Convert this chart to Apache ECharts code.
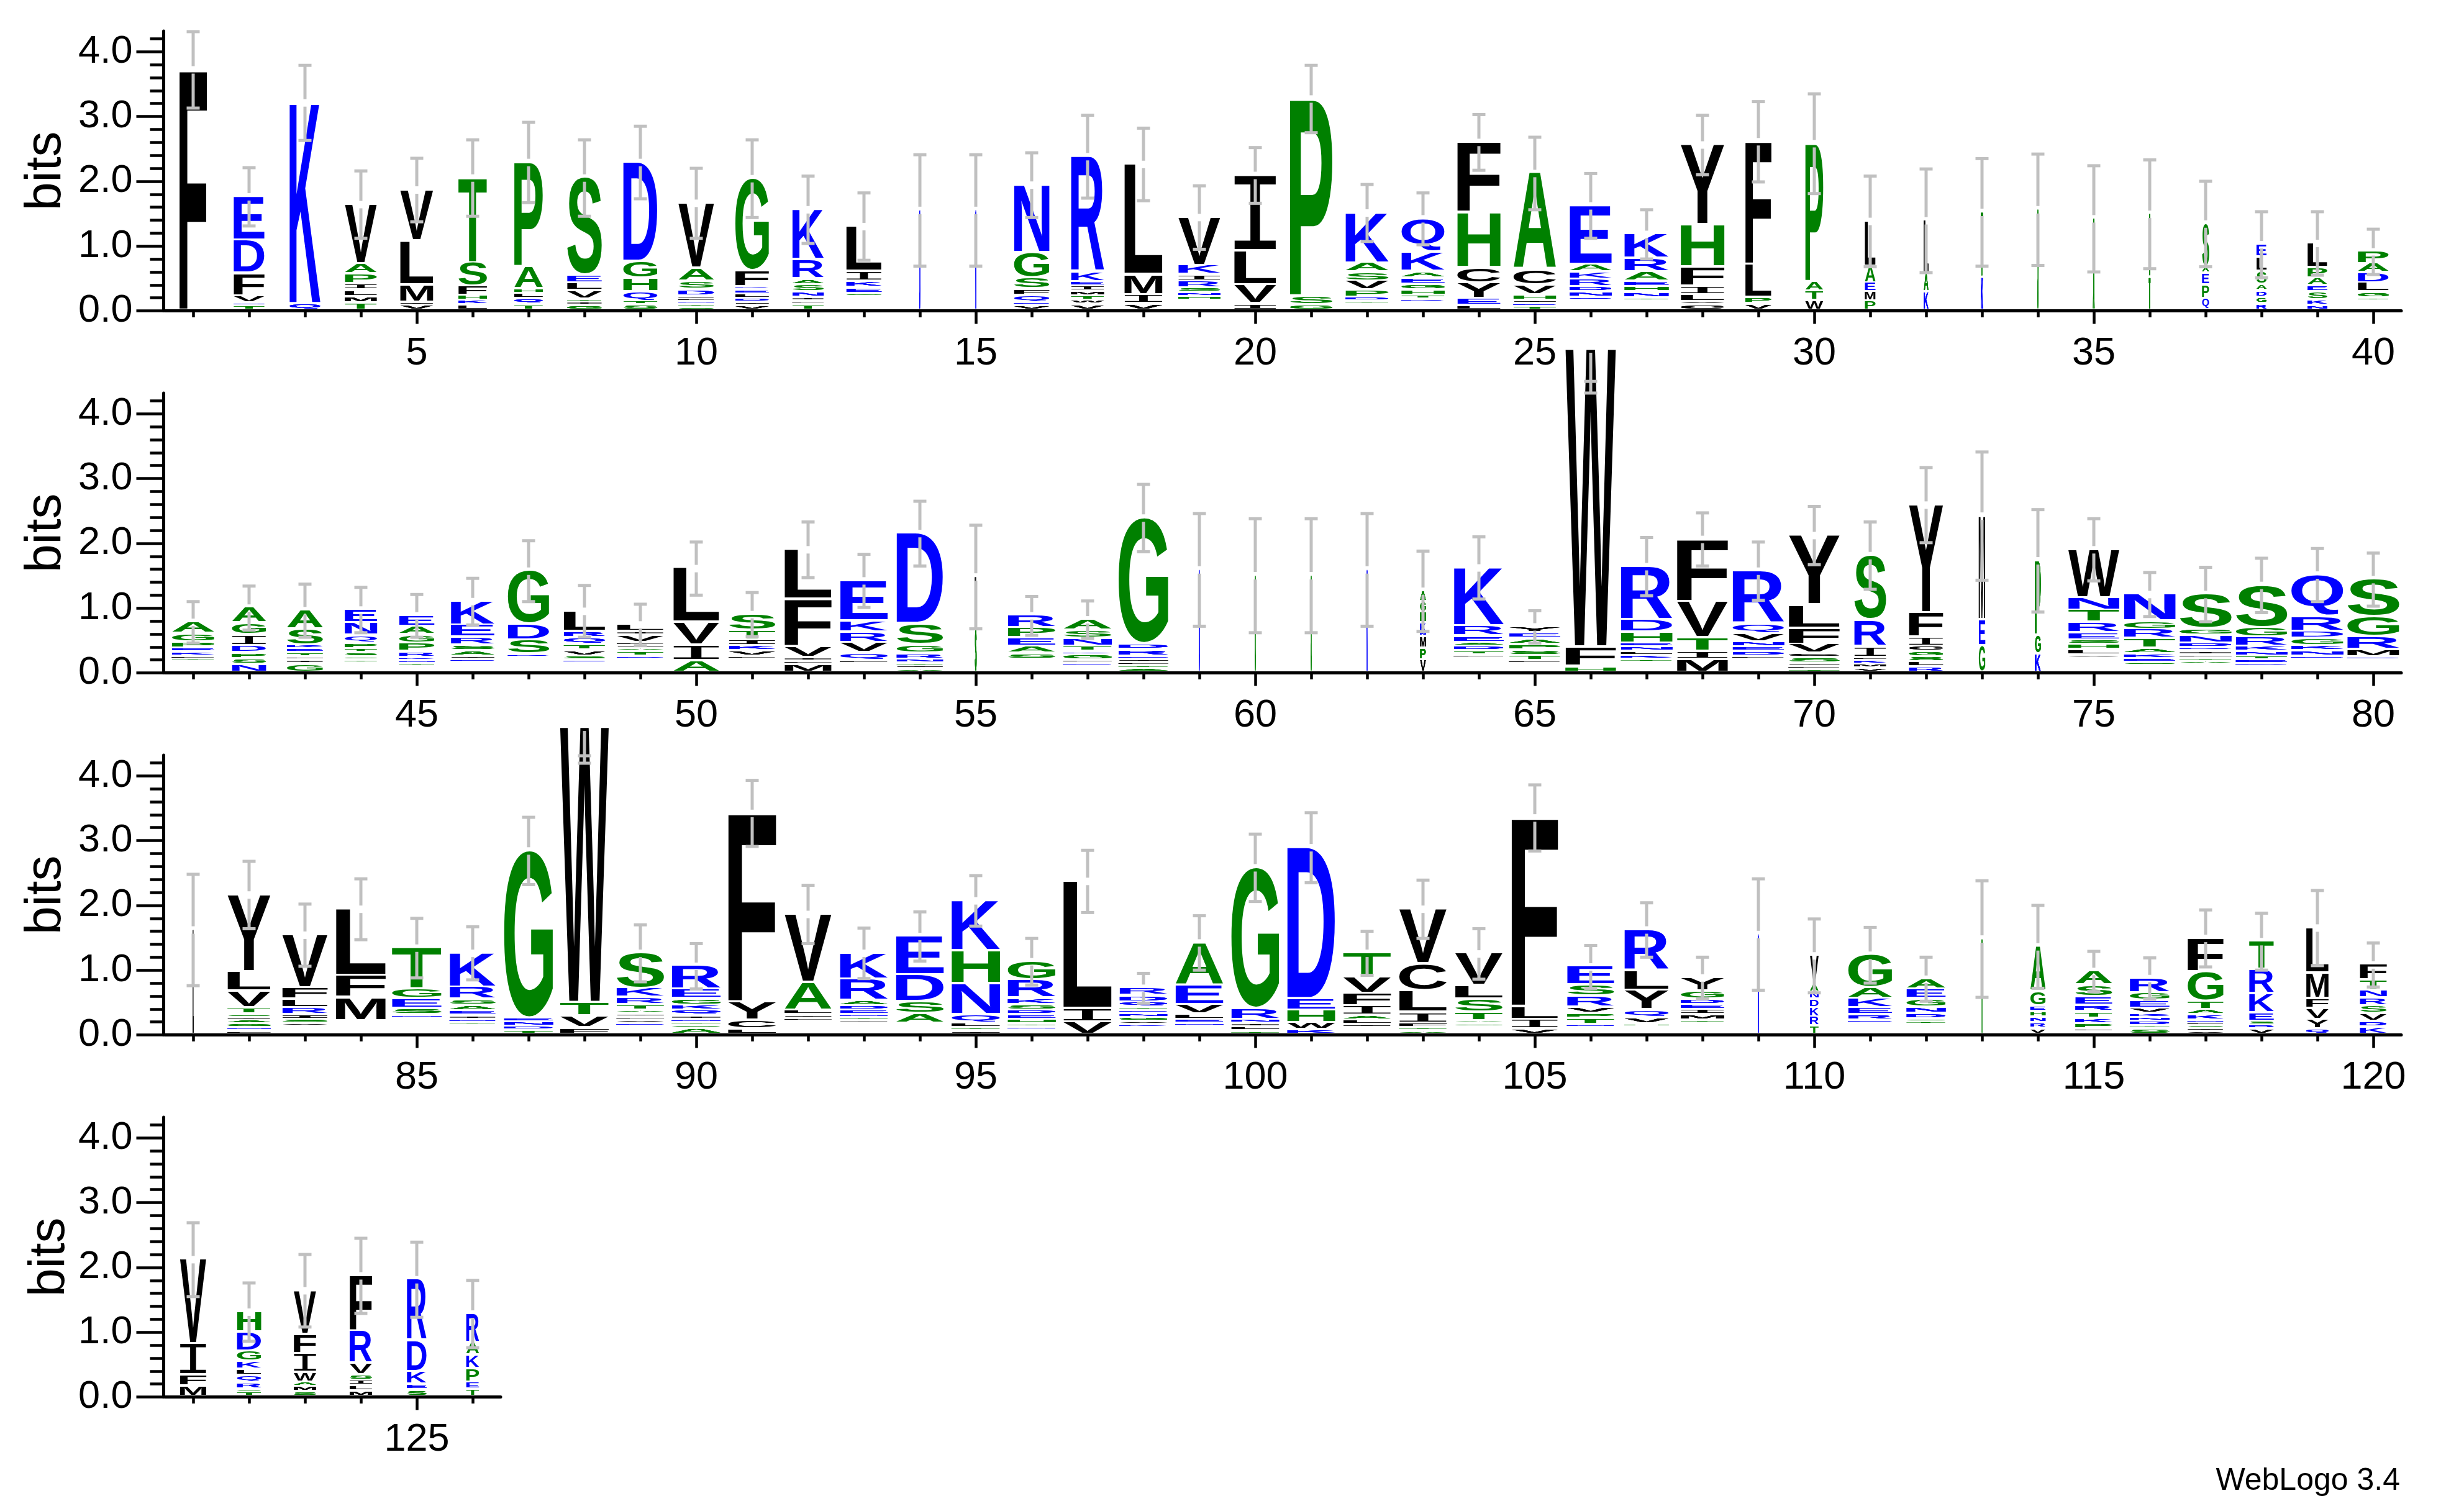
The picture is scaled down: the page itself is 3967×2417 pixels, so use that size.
<!DOCTYPE html>
<html>
<head>
<meta charset="utf-8">
<style>html,body{margin:0;padding:0;background:#fff}#c{width:3967px;height:2417px}</style>
<script src="https://cdn.jsdelivr.net/npm/echarts@6/dist/echarts.min.js"></script>
</head>
<body>
<div id="c"></div>
<script>
// Stacks are listed top letter first: letter + height in bits ("_" = unlabelled remainder of the stack).
const lettersRow1 = [
"F3.72","E.68 D.51 F.35 V.11 N.04 T.07","K3.11 Q.10","V.92 A.16 P.15 I.10 L.10 M.10 T.11","V.79 L.68 M.27 I.035 V.09",
"T1.31 S.37 F.14 H.08 K.07 L.08","P1.62 A.34 H.07 L.08 Q.09 T.09","S1.51 E.12 L.12 V.13 T.04 I.06 G.07","D1.54 G.26 H.21 Q.14 T.06 S.08","V1.01 A.2 S.13 D.1 I.04 L.04 N.05 T.04 S.05",
"G1.43 F.25 R.05 E.06 L.07 D.06 I.05 V.07","K.78 R.30 A.09 S.11 N.08 I.06 L.05 T.09","L.70 I.15 K.10 E.09 G.05 _.21","D1.55","N1.55",
"N1.05 G.39 S.17 F.10 Q.11 E.05 V.07","R1.79 K.15 E.07 I.08 M.07 T.07 W.06 V.09","L1.71 M.31 I.14 V.10","V.75 K.14 I.10 R.11 S.07 N.06 H.06 _.15","I1.17 L.53 V.29 I.10",
"P3.05 S.14 G.08","K.78 A.14 S.14 V.14 P.11 D.06 T.05 _.09","Q.52 K.30 A.10 E.10 G.09 H.08 T.06 R.05 _.12","F1.09 H.85 C.24 Y.24 E.11 L.07","A1.49 C.24 V.15 H.09 I.05 E.04 T.06",
"E.91 A.12 K.11 R.12 D.08 N.08 Q.05 _.15","K.38 R.21 A.14 E.09 H.08 N.09 T.04 _.15","Y1.24 H.65 F.30 I.13 L.11 V.05 C.08","F1.90 L.51 P.10 V.10","P2.14 A.15 T.14 W.15",
"L.70 A.26 E.14 M.14 P.14","L.83 A.28 K.28","T1.01 K.51","S1.56","S.84 A.58",
"S.98 T.51","S.67 A.10 E.18 P.21 Q.18","E.20 L.22 S.20 A.10 D.10 G.10 R.10","L.38 P.16 A.12 E.10 S.12 K.09 N.07","P.19 A.14 D.16 L.14 G.09 T.04 _.15"
];
const lettersRow2 = [
"A.18 G.13 P.10 E.06 K.06 L.04 T.03 _.18","A.24 G.18 I.17 D.11 P.09 S.09 N.12","A.29 S.25 K.06 E.06 T.06 L.05 I.06 G.13","E.21 N.19 Q.12 P.09 T.06 S.06 G.05 T.05 _.14","E.17 A.13 G.13 P.13 R.09 K.05 N.05 T.05 _.08",
"K.37 E.19 R.12 S.09 A.08 I.05 E.05 _.15","G.83 D.24 S.22 R.05 _.23","L.32 R.10 Q.10 T.09 V.09 S.06 E.05 _.14","L.11 I.06 V.11 L.04 I.05 A.05 T.07 D.05 _.20","L.84 V.35 I.24 A.18",
"S.25 T.15 I.09 K.08 V.08 L.03 _.22","L.77 F.73 V.17 I.06 L.05 M.12","E.63 K.17 R.16 V.16 Q.12 L.04 _.14","D1.40 S.33 G.13 R.09 N.06 T.04 I.05 A.05","L.81 S.67",
"R.19 P.16 E.13 A.11 S.09 _.20","A.17 S.13 N.12 T.08 K.05 G.08 L.05 E.04 _.10","G1.95 D.09 R.10 E.05 I.05 L.05 T.04 A.06","D1.59","G1.50",
"S1.50","K1.59","A.17 G.16 H.17 K.15 N.06 M.18 P.18 V.19","K.90 R.16 E.10 A.06 D.07 T.06 L.03 _.24","Y.10 E.09 A.09 P.09 S.08 T.08 L.03 _.15",
"W4.61 F.30 H.09","R.83 D.19 H.17 E.06 N.07 L.06 K.06 T.03 _.17","F.97 V.56 T.21 I.12 M.20","R.82 Q.15 V.13 N.08 E.07 D.07 L.03 _.22","Y1.08 L.36 F.25 V.14 C.06 S.09 I.05 L.04 T.05",
"S1.00 R.41 I.17 L.05 K.06 M.06 V.06","Y1.67 F.38 I.14 C.08 G.08 S.08 L.08 R.08","M1.61 E.40 G.41","P1.16 G.29 K.28","W.75 N.19 T.19 R.16 E.11 S.07 H.08 L.08 V.04 _.23",
"N.42 G.13 R.14 T.15 A.09 K.07 E.06 S.05 _.10","S.54 G.10 N.12 D.07 R.05 I.06 L.05 T.05 A.04 _.13","S.66 G.15 R.14 K.08 N.07 T.06 E.06 D.04 _.09","Q.65 R.23 D.11 G.11 K.08 N.08 E.03 _.22","S.58 G.31 R.20 M.11 D.03 _.21"
];
const lettersRow3 = [
"L1.62","Y1.19 L.30 V.26 T.10 S.05 I.04 A.06 G.06 N.05 L.05","V.82 F.18 L.13 R.11 I.07 S.06 V.03 _.14","L1.03 F.34 M.36 _.21","T.64 G.15 E.15 S.10 N.05 _.25",
"K.53 R.19 S.09 A.09 E.07 I.06 N.04 T.04 _.15","G2.59 E.06 N.07 D.06 T.06","W4.26 T.21 V.18 F.10","S.55 K.14 R.11 T.09 A.05 I.05 L.05 V.05 E.04 _.13","R.37 E.14 G.10 K.08 Q.08 I.06 N.04 T.05 S.04 A.10",
"F2.92 Y.28 C.14 L.08","V1.06 A.43 L.07 I.05 F.05 _.20","K.41 R.33 A.08 D.07 E.07 N.04 T.05 I.04 _.17","E.60 D.41 S.19 A.15 _.17","K.78 H.51 N.48 Q.13 L.07 T.05 I.05",
"G.29 R.28 K.10 S.09 D.07 E.07 H.07 T.05 N.04 _.07","L1.97 I.21 V.19","R.12 D.10 Q.08 T.05 E.05 N.06 G.06 V.05 K.04 _.11","A.66 E.30 V.15 L.08 E.06 N.05 _.12","G2.18 R.17 N.06 I.06 L.06 T.05",
"D2.34 E.18 H.19 W.11 K.07","T.37 V.26 F.19 I.15 A.07 L.07 I.04 _.11","V.85 C.42 L.33 I.17 F.07 T.05 A.05","V.50 L.21 S.20 T.13 A.05 G.05 _.11","F2.92 L.20 I.15 V.08",
"E.29 S.17 R.17 V.10 P.07 T.10 N.03 _.12","R.63 L.31 Y.30 Q.12 V.10 H.05 _.11","Y.21 G.13 D.08 E.08 I.08 M.08 T.03 _.19","N1.55","V.44 A.13 N.11 D.13 K.14 R.14 T.13",
"G.51 A.17 K.14 E.11 R.08 E.03 _.19","A.16 E.15 G.13 N.10 D.08 S.04 T.03 _.17","T1.48","A.69 G.23 E.09 H.08 N.09 R.09 V.09","A.22 S.18 E.13 R.10 T.10 K.09 P.08 L.03 _.05",
"R.23 G.12 E.12 V.08 K.06 N.06 D.07 T.05 S.08","F.52 G.46 T.13 A.08 K.08 N.04 L.04 S.05 I.04 V.05","T.44 R.37 K.30 E.13 S.06 D.06 V.08","L.70 M.40 F.15 V.17 Y.15 Q.08","F.24 T.16 N.12 R.12 S.12 V.12 D.09 K.11"
];
const lettersRow4 = [
"V1.31 I.48 F.17 M.16","H.32 D.29 G.16 K.12 L.10 Q.11 R.10 S.04 T.07","V.68 F.30 I.29 W.15 A.07 M.08 S.07","F.86 R.50 V.18 S.08 I.08 L.09 M.08","R.95 D.48 K.19 E.09 S.10","R.45 A.19 K.21 P.21 E.11 T.11"
];
// Stack width as a fraction of one position.
const widthsRow1 = [.49,.55,.55,.57,.59,.51,.51,.62,.61,.64,.6,.56,.63,.012,.012,.63,.59,.68,.75,.75,.76,.77,.77,.77,.76,.75,.79,.78,.465,.32,.19,.08,.035,.02,.03,.03,.125,.18,.35,.55];
const widthsRow2 = [.755,.61,.645,.58,.63,.78,.74,.74,.83,.82,.83,.84,.85,.83,.03,.85,.865,.89,.012,.012,.012,.012,.1,.89,.91,.9,.92,.91,.92,.91,.57,.61,.115,.1,.91,.92,.93,.92,.93,.93];
const widthsRow3 = [.012,.77,.81,.89,.885,.82,.875,.87,.85,.875,.855,.84,.855,.855,.865,.855,.865,.855,.855,.855,.855,.855,.85,.85,.83,.84,.79,.775,.012,.155,.785,.7,.012,.27,.66,.71,.64,.44,.4,.48];
const widthsRow4 = [.47,.43,.4,.4,.35,.23];
// Half length of each error bar, in bits.
const errorsRow1 = [.59,.45,.58,.52,.49,.59,.62,.59,.56,.54,.60,.52,.52,.86,.86,.50,.64,.56,.49,.43,.52,.44,.40,.43,.56,.50,.38,.46,.62,.77,.70,.80,.83,.86,.82,.84,.66,.51,.49,.35];
const errorsRow2 = [.32,.34,.41,.35,.33,.36,.47,.40,.32,.41,.34,.43,.41,.50,.80,.30,.29,.52,.87,.88,.88,.87,.62,.48,.25,.68,.45,.41,.45,.45,.52,.58,.99,.79,.48,.34,.42,.42,.41,.41];
const errorsRow3 = [.86,.52,.48,.47,.46,.41,.52,.555,.44,.35,.51,.45,.39,.38,.39,.36,.48,.23,.42,.52,.54,.34,.45,.39,.51,.33,.42,.32,.86,.57,.43,.34,.90,.64,.31,.32,.44,.44,.58,.34];
const errorsRow4 = [.57,.45,.56,.58,.58,.52];
// Tall stacks whose upper whisker cap sits below the stack top: position -> cap value in bits.
const innerCaps = {66: 4.50, 88: 4.31};

const firstPositions = [1, 41, 81, 121];
const yTickLabels = [0, 1, 2, 3, 4];
const yMinorTicks = [.2,.4,.6,.8,1.2,1.4,1.6,1.8,2.2,2.4,2.6,2.8,3.2,3.4,3.6,3.8,4.2];
const yName = 'bits';
const footer = 'WebLogo 3.4';

const rows = [
  {letters: lettersRow1, widths: widthsRow1, errors: errorsRow1},
  {letters: lettersRow2, widths: widthsRow2, errors: errorsRow2},
  {letters: lettersRow3, widths: widthsRow3, errors: errorsRow3},
  {letters: lettersRow4, widths: widthsRow4, errors: errorsRow4}
];

const GREEN = '#008000', BLUE = '#0000ff', BLACK = '#000000', GRAY = '#c0c0c0';
const colorOf = {A:GREEN,G:GREEN,H:GREEN,P:GREEN,S:GREEN,T:GREEN,
                 K:BLUE,R:BLUE,D:BLUE,E:BLUE,N:BLUE,Q:BLUE,
                 F:BLACK,V:BLACK,L:BLACK,I:BLACK,M:BLACK,Y:BLACK,W:BLACK,C:BLACK};
const FAMILY = '"Liberation Sans"';
const GLYPH_FONT = 'bold 200px ' + FAMILY;
const SERIF_I_FONT = '200px "Liberation Mono"';   // the logo's I has slab caps and a thin stem
const fontOf = ch => ch === 'I' ? SERIF_I_FONT : GLYPH_FONT;
const mctx = document.createElement('canvas').getContext('2d');
const metricCache = {};
function metric(ch){
  if(!metricCache[ch]){
    mctx.font = fontOf(ch); mctx.textBaseline = 'middle'; mctx.textAlign = 'left';
    const m = mctx.measureText(ch);
    metricCache[ch] = {l:m.actualBoundingBoxLeft, r:m.actualBoundingBoxRight, a:m.actualBoundingBoxAscent, d:m.actualBoundingBoxDescent};
  }
  return metricCache[ch];
}
function parseStack(s){
  return s.split(' ').map(t => ({ch:t[0], h:parseFloat(t.slice(1))}));
}

const GLYPH_GAP = 3.8, MIN_GLYPH = 1.2, BAR_W = 5, CAP_W = 21, CAP_H = 5, ERR_GAP = 6;

function makeRender(row, first){
  return function(params, api){
    const i = params.dataIndex;
    const pos = first + i;
    const w = row.widths[i];
    const stack = parseStack(row.letters[i]);
    const children = [];
    let total = 0;
    for(const t of stack) total += t.h;
    let cum = total;
    for(const t of stack){
      const top = api.coord([pos - w/2, cum]);
      const bot = api.coord([pos + w/2, cum - t.h]);
      cum -= t.h;
      if(t.ch === '_') continue;
      const W = bot[0] - top[0];
      const H = Math.max(bot[1] - top[1] - GLYPH_GAP, MIN_GLYPH);
      const m = metric(t.ch);
      const sx = W / (m.l + m.r), sy = H / (m.a + m.d);
      if(W < 4){
        // hairline columns: keep the colour solid where the glyph's strokes fall below one pixel
        const sw = Math.min(1.2, W);
        children.push({type:'rect', silent:true,
          shape:{x:(top[0]+bot[0])/2 - sw/2, y:top[1], width:sw, height:H}, style:{fill:colorOf[t.ch]}});
      }
      const copies = (H < 7 || W < 10) ? 3 : 1;   // thin glyphs: overlay to keep full colour strength
      for(let c = 0; c < copies; c++){
        children.push({
          type:'text', silent:true,
          x: top[0] + m.l*sx, y: top[1] + m.a*sy, scaleX: sx, scaleY: sy,
          style:{text:t.ch, font:fontOf(t.ch), fill:colorOf[t.ch], align:'left', verticalAlign:'middle', textAlign:'left', textVerticalAlign:'middle'}
        });
      }
    }
    const e = row.errors[i];
    const cx = api.coord([pos, total])[0];
    const yTop = api.coord([pos, total])[1];
    const yHi = api.coord([pos, total + e])[1];
    const yLo = api.coord([pos, total - e])[1];
    const rect = (x,y,wd,ht) => ({type:'rect', silent:true, shape:{x:x,y:y,width:wd,height:ht}, style:{fill:GRAY}});
    children.push(rect(cx - BAR_W/2, yTop + ERR_GAP, BAR_W, yLo - yTop - ERR_GAP));
    children.push(rect(cx - CAP_W/2, yLo - CAP_H/2, CAP_W, CAP_H));
    if(innerCaps[pos] !== undefined){
      const yc = api.coord([pos, innerCaps[pos]])[1];
      children.push(rect(cx - CAP_W/2, yc - CAP_H/2, CAP_W, CAP_H));
    } else {
      children.push(rect(cx - BAR_W/2, yHi, BAR_W, yTop - ERR_GAP - yHi));
      children.push(rect(cx - CAP_W/2, yHi - CAP_H/2, CAP_W, CAP_H));
    }
    return {type:'group', children:children};
  };
}

const LEFT = 266, STEP = 90, FIRST_BASE = 500.5, ROW_GAP = 583, PX_PER_BIT = 104.3, Y_MAX = 4.32;
const labelFont = {fontFamily:FAMILY, fontSize:63, color:'#000'};
const grids=[], xAxes=[], yAxes=[], series=[];
rows.forEach((row, r) => {
  const first = firstPositions[r], n = row.letters.length;
  const positions = row.letters.map((_, k) => first + k);
  const majors = positions.filter(p => p % 5 === 0);
  const H = PX_PER_BIT * Y_MAX, base = FIRST_BASE + ROW_GAP * r;
  grids.push({left:LEFT, top:base - H, width:n*STEP, height:H, containLabel:false});
  const lo = first - .5, hi = first + n - .5;
  xAxes.push({type:'value', gridIndex:r, position:'bottom', min:lo, max:hi, splitLine:{show:false},
    axisLine:{show:true, onZero:false, lineStyle:{color:'#000', width:5}},
    axisTick:{show:true, customValues:majors, length:21, lineStyle:{color:'#000', width:4.5}},
    axisLabel:{show:true, customValues:majors, margin:38, formatter:v => String(v), ...labelFont}});
  xAxes.push({type:'value', gridIndex:r, position:'bottom', min:lo, max:hi, splitLine:{show:false},
    axisLine:{show:false, onZero:false},
    axisTick:{show:true, customValues:positions, length:10.5, lineStyle:{color:'#000', width:4.5}},
    axisLabel:{show:false}});
  yAxes.push({type:'value', gridIndex:r, position:'left', min:0, max:Y_MAX, offset:2.5, splitLine:{show:false},
    axisLine:{show:true, onZero:false, lineStyle:{color:'#000', width:5}},
    axisTick:{show:true, customValues:yTickLabels, length:44, lineStyle:{color:'#000', width:4.5}},
    axisLabel:{show:true, customValues:yTickLabels, margin:50, formatter:v => v.toFixed(1), ...labelFont},
    name:yName, nameLocation:'middle', nameRotate:90, nameGap:142,
    nameTextStyle:{fontFamily:FAMILY, fontSize:82, color:'#000'}});
  yAxes.push({type:'value', gridIndex:r, position:'left', min:0, max:Y_MAX, offset:2.5, splitLine:{show:false},
    axisLine:{show:false, onZero:false},
    axisTick:{show:true, customValues:yMinorTicks, length:22, lineStyle:{color:'#000', width:4.5}},
    axisLabel:{show:false}});
  series.push({type:'custom', coordinateSystem:'cartesian2d', xAxisIndex:r*2, yAxisIndex:r*2, clip:false,
    silent:true, animation:false, progressive:0, data:positions.map(p => [p, 0]), renderItem:makeRender(row, first)});
});

const chart = echarts.init(document.getElementById('c'), null, {renderer:'canvas', width:3967, height:2417});
chart.setOption({
  backgroundColor:'#fff', animation:false, tooltip:{show:false},
  title:{text:footer, right:98, top:2355, textStyle:{fontFamily:FAMILY, fontSize:50, fontWeight:'normal', color:'#000'}},
  grid:grids, xAxis:xAxes, yAxis:yAxes, series:series
});
</script>
</body>
</html>
